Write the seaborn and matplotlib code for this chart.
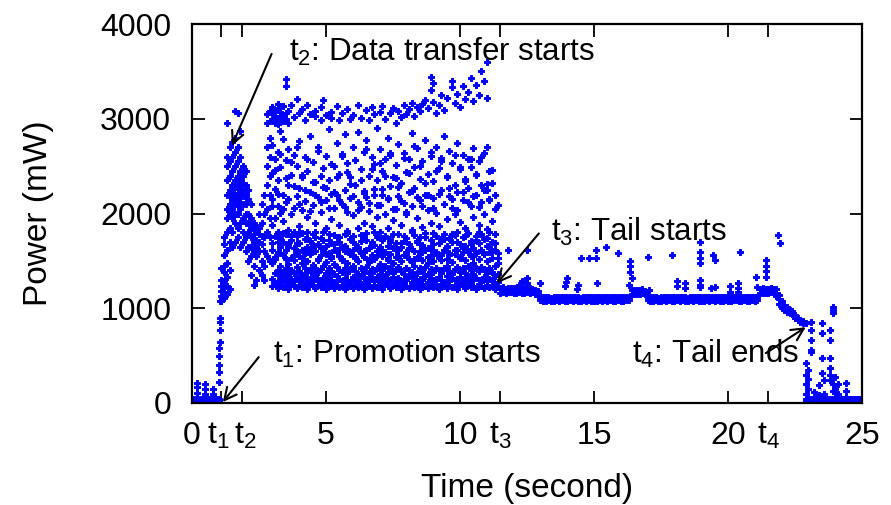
import matplotlib
matplotlib.use("Agg")
import matplotlib.pyplot as plt
import matplotlib.transforms as mtransforms
import seaborn as sns
import pandas as pd

# ---------------- data ----------------
# idle phase before promotion: time columns and power samples in each column
pre_t = [0.0, 0.1, 0.2, 0.3, 0.4, 0.5, 0.6, 0.7, 0.8, 0.9, 1.0, 1.05]
pre_p = [
    [20, 45], [25, 45], [20, 45, 110, 170, 210], [25, 40], [20, 45],
    [25, 45, 100, 150, 200], [20, 40], [25, 45], [20, 45, 100, 150],
    [25, 40], [20, 45, 220, 330, 400, 500, 580], [640, 770, 850, 900, 1080],
]

# promotion + data transfer phase
transfer_t = [1.1, 1.2, 1.3, 1.4, 1.5, 1.6, 1.7, 1.8, 1.9, 2.0,
              2.1, 2.2, 2.3, 2.4, 2.5, 2.6, 2.7, 2.8, 2.9,
              3.0, 3.1, 3.2, 3.3, 3.4, 3.5, 3.6, 3.7, 3.8, 3.9,
              4.0, 4.1, 4.2, 4.3, 4.4, 4.5, 4.6, 4.7, 4.8, 4.9,
              5.0, 5.1, 5.2, 5.3, 5.4, 5.5, 5.6, 5.7, 5.8, 5.9,
              6.0, 6.1, 6.2, 6.3, 6.4, 6.5, 6.6, 6.7, 6.8, 6.9,
              7.0, 7.1, 7.2, 7.3, 7.4, 7.5, 7.6, 7.7, 7.8, 7.9,
              8.0, 8.1, 8.2, 8.3, 8.4, 8.5, 8.6, 8.7, 8.8, 8.9,
              9.0, 9.1, 9.2, 9.3, 9.4, 9.5, 9.6, 9.7, 9.8, 9.9,
              10.0, 10.1, 10.2, 10.3, 10.4, 10.5, 10.6, 10.7, 10.8, 10.9,
              11.0, 11.1, 11.2, 11.3, 11.4]
transfer_p = [
    [1080, 1130, 1180, 1240, 1300, 1420],
    [1110, 1160, 1210, 1290, 1380, 1450, 1560, 1680, 1750],
    [1150, 1230, 1330, 1480, 1620, 1800, 1950, 2050, 2200, 2350, 2500, 2600, 2950],
    [1200, 1400, 1700, 1850, 2000, 2100, 2180, 2250, 2400, 2550, 2700],
    [1650, 1800, 1950, 2050, 2150, 2230, 2300, 2450, 2600, 2750],
    [1700, 1900, 2000, 2100, 2150, 2200, 2280, 2350, 2500, 2650, 2800, 3080],
    [1750, 1850, 2000, 2080, 2150, 2220, 2300, 2400, 2550, 2700, 3060],
    [1650, 1900, 2050, 2120, 2200, 2260, 2350, 2450, 2600, 2870],
    [1700, 1800, 1950, 2100, 2180, 2250, 2320, 2400, 2500],
    [1600, 1750, 1900, 2000, 2100, 2200, 2300, 2450],
    [1500, 1650, 1800, 1900, 2000, 2150, 2250],
    [1350, 1550, 1650, 1750, 1850, 1950, 2100],
    [1250, 1450, 1600, 1700, 1780, 1850, 1900],
    [1300, 1550, 1650, 1720, 1800, 1880],
    [1400, 1600, 1700, 1780, 1850, 2000],
    [1350, 1500, 1680, 1760, 1900, 2100],
    [1300, 1450, 1600, 1750, 2000, 2200],
    [1550, 1800, 2050, 2300, 2500, 2700, 2950, 3050],
    [1500, 1750, 1950, 2200, 2400, 2600, 2800, 2980, 3080],
    [1230, 1310, 1480, 1690, 1880, 2150, 2430, 2720, 2990, 3060, 3120],
    [1260, 1370, 1520, 1760, 1950, 2260, 2580, 2960, 3020, 3090],
    [1210, 1290, 1400, 1590, 1810, 2080, 2350, 2650, 2940, 3010, 3100, 3160],
    [1250, 1340, 1450, 1650, 1740, 2010, 2490, 2870, 3030, 3070],
    [1220, 1300, 1380, 1560, 1700, 1920, 2200, 2790, 2980, 3040, 3130],
    [1240, 1330, 1420, 1620, 1780, 2120, 2560, 3000, 3060, 3350, 3420],
    [1200, 1280, 1360, 1470, 1680, 1830, 2300, 2680, 2950, 3080],
    [1260, 1310, 1400, 1530, 1720, 1990, 2410, 3140],
    [1230, 1290, 1370, 1510, 1640, 1800, 2060, 2620, 3020],
    [1210, 1320, 1440, 1600, 1760, 2180, 2500, 3210],
    [1250, 1300, 1390, 1550, 1690, 1870, 2270, 2760, 3060],
    [1220, 1280, 1350, 1480, 1620, 1790, 2040, 2380, 3100],
    [1240, 1330, 1420, 1580, 1730, 2130, 2600, 2990],
    [1200, 1270, 1380, 1500, 1650, 1810, 1960, 2450, 3150],
    [1260, 1310, 1400, 1570, 1710, 2230, 2820, 3050],
    [1230, 1290, 1360, 1460, 1640, 1780, 2090, 2540],
    [1210, 1340, 1430, 1600, 1750, 1900, 2330, 3030, 3080],
    [1250, 1300, 1380, 1520, 1680, 2170, 2700],
    [1220, 1280, 1410, 1560, 1740, 2020, 2400, 2990, 3120],
    [1240, 1320, 1450, 1620, 1800, 2280, 3200],
    [1200, 1290, 1370, 1490, 1660, 1850, 2140, 2610, 3040],
    [1260, 1330, 1420, 1580, 1720, 2350, 2890],
    [1230, 1300, 1390, 1530, 1690, 1940, 2210, 3010, 3070],
    [1210, 1280, 1360, 1470, 1610, 1770, 2060, 2500],
    [1250, 1340, 1440, 1590, 1750, 2190, 2740, 3130],
    [1220, 1310, 1400, 1550, 1700, 1880, 2420, 2990],
    [1240, 1290, 1380, 1510, 1650, 2100, 2630, 3060],
    [1200, 1320, 1430, 1600, 1780, 2250, 2840],
    [1260, 1300, 1370, 1480, 1630, 1820, 2020, 2530, 3100],
    [1230, 1280, 1410, 1570, 1730, 2160, 2380, 3000],
    [1210, 1330, 1450, 1620, 1760, 1980, 2700, 3040],
    [1250, 1300, 1390, 1530, 1680, 2300, 2560],
    [1220, 1290, 1360, 1500, 1650, 1850, 2120, 2860, 3150],
    [1240, 1340, 1420, 1580, 1710, 2070, 2470, 3010],
    [1200, 1280, 1380, 1540, 1740, 1900, 2240, 2650],
    [1260, 1310, 1440, 1610, 1790, 2170, 2780, 3090],
    [1230, 1300, 1370, 1490, 1640, 2030, 2400, 2990],
    [1210, 1320, 1410, 1560, 1700, 1870, 2600, 3120],
    [1250, 1290, 1390, 1520, 1670, 2200, 2520, 3050],
    [1220, 1330, 1430, 1600, 1750, 1960, 2350, 2900],
    [1240, 1280, 1360, 1470, 1620, 1810, 2090, 2680, 3070],
    [1200, 1310, 1400, 1550, 1720, 2260, 2450, 3130],
    [1260, 1340, 1450, 1590, 1760, 2000, 2580, 3000],
    [1230, 1290, 1380, 1510, 1660, 1850, 2150, 2800],
    [1210, 1300, 1420, 1570, 1730, 2290, 2620, 3060],
    [1250, 1330, 1370, 1480, 1640, 1930, 2380, 3110],
    [1220, 1280, 1410, 1540, 1690, 2050, 2510, 2960],
    [1240, 1320, 1440, 1610, 1780, 2180, 2730, 3080],
    [1200, 1290, 1390, 1500, 1650, 1880, 2320, 3020],
    [1260, 1310, 1360, 1560, 1710, 2110, 2640, 3140],
    [1230, 1300, 1430, 1590, 1740, 1990, 2440, 3050],
    [1210, 1340, 1400, 1520, 1680, 2230, 2570, 3100],
    [1250, 1280, 1380, 1490, 1630, 1830, 2080, 2850, 3170],
    [1220, 1330, 1450, 1600, 1770, 2270, 2490, 3030],
    [1240, 1290, 1370, 1530, 1700, 1950, 2690, 3120],
    [1200, 1310, 1420, 1570, 1750, 2140, 2360, 3080],
    [1260, 1300, 1390, 1510, 1660, 1860, 2550, 3160],
    [1230, 1340, 1440, 1620, 1790, 2200, 2780, 3200],
    [1210, 1280, 1360, 1480, 1640, 2040, 2420, 3110],
    [1250, 1320, 1410, 1550, 1720, 1900, 2610, 3300, 3440],
    [1220, 1290, 1380, 1500, 1680, 2160, 2340, 3180, 3380],
    [1240, 1310, 1430, 1590, 1760, 2010, 2700, 3060],
    [1200, 1330, 1400, 1530, 1690, 1870, 2480, 3150],
    [1260, 1300, 1370, 1560, 1730, 2250, 2590, 3250],
    [1230, 1280, 1420, 1610, 1780, 2100, 2820, 3090],
    [1210, 1340, 1450, 1520, 1650, 1940, 2400, 3220],
    [1250, 1290, 1390, 1580, 1740, 2180, 2660],
    [1220, 1320, 1360, 1490, 1700, 2060, 2530, 3330, 3400],
    [1240, 1300, 1410, 1570, 1770, 1990, 2300, 3170],
    [1200, 1310, 1440, 1620, 1800, 2230, 2740, 3260],
    [1260, 1330, 1380, 1540, 1680, 1910, 2470, 3120],
    [1230, 1280, 1420, 1590, 1750, 2140, 2620, 3350],
    [1210, 1300, 1370, 1510, 1660, 1850, 2360, 3210],
    [1250, 1340, 1450, 1600, 1790, 2270, 2580, 3280],
    [1220, 1290, 1400, 1550, 1710, 2080, 2490, 3430],
    [1240, 1310, 1360, 1480, 1640, 1960, 2690, 3190],
    [1200, 1320, 1430, 1580, 1760, 2200, 2410, 3360],
    [1260, 1300, 1390, 1520, 1690, 1880, 2550, 3250],
    [1230, 1280, 1440, 1610, 1780, 2120, 2300, 3500],
    [1210, 1330, 1410, 1570, 1730, 2000, 2640, 3400],
    [1250, 1290, 1370, 1500, 1660, 1840, 2250, 2700, 3600, 3220],
    [1220, 1310, 1420, 1590, 1800, 2150, 2450],
    [1240, 1300, 1380, 1530, 1700, 1920, 2320],
    [1200, 1260, 1340, 1450, 1610, 1780, 2050],
    [1220, 1280, 1360, 1480, 1580],
]

# additional samples in the 3.0-11.4 s columns (one per column, two bands)
extra_t = transfer_t[19:]
extra_band = [1610, 1540, 1700, 1580, 1790, 1520, 1650, 1760, 1560, 1690,
              1810, 1530, 1620, 1740, 1590, 1670, 1800, 1510, 1640, 1720,
              1570, 1780, 1550, 1680, 1610, 1750, 1520, 1660, 1790, 1580,
              1700, 1540, 1630, 1770, 1600, 1720, 1510, 1680, 1810, 1560,
              1650, 1740, 1590, 1530, 1700, 1780, 1620, 1550, 1690, 1760,
              1570, 1640, 1800, 1520, 1710, 1600, 1670, 1750, 1540, 1630,
              1790, 1580, 1690, 1510, 1730, 1660, 1560, 1780, 1610, 1700,
              1530, 1640, 1760, 1590, 1680, 1550, 1720, 1800, 1620, 1570,
              1740, 1650, 1600, 1690, 1530]
extra_mid = [2080, 2460, 2210, 2630, 2050, 2370, 2150, 2540, 2290, 2700,
             2100, 2410, 2250, 2580, 2030, 2330, 2190, 2660, 2120, 2480,
             2270, 2060, 2520, 2230, 2390, 2140, 2610, 2070, 2440, 2310,
             2180, 2560, 2040, 2350, 2220, 2680, 2110, 2470, 2260, 2090,
             2530, 2200, 2400, 2160, 2640, 2050, 2370, 2280, 2130, 2590,
             2020, 2430, 2240, 2710, 2170, 2500, 2080, 2320, 2190, 2650,
             2060, 2450, 2210, 2550, 2100, 2380, 2270, 2150, 2620, 2040,
             2490, 2230, 2340, 2120, 2570, 2180, 2420, 2070, 2600, 2250,
             2310, 2140, 2460, 2200, 2090]

# tail phase: dense baseline (two rows of samples per time column)
tail_t = [11.5, 11.6, 11.7, 11.8, 11.9, 12.0, 12.1, 12.2, 12.3, 12.4,
          12.5, 12.6, 12.7, 12.8, 12.9, 13.0, 13.1, 13.2, 13.3, 13.4,
          13.5, 13.6, 13.7, 13.8, 13.9, 14.0, 14.1, 14.2, 14.3, 14.4,
          14.5, 14.6, 14.7, 14.8, 14.9, 15.0, 15.1, 15.2, 15.3, 15.4,
          15.5, 15.6, 15.7, 15.8, 15.9, 16.0, 16.1, 16.2, 16.3, 16.4,
          16.5, 16.6, 16.7, 16.8, 16.9, 17.0, 17.1, 17.2, 17.3, 17.4,
          17.5, 17.6, 17.7, 17.8, 17.9, 18.0, 18.1, 18.2, 18.3, 18.4,
          18.5, 18.6, 18.7, 18.8, 18.9, 19.0, 19.1, 19.2, 19.3, 19.4,
          19.5, 19.6, 19.7, 19.8, 19.9, 20.0, 20.1, 20.2, 20.3, 20.4,
          20.5, 20.6, 20.7, 20.8, 20.9, 21.0, 21.1, 21.2, 21.3, 21.4,
          21.5, 21.6, 21.7]
tail_low = [1165, 1170, 1160, 1168, 1172, 1163, 1166, 1170, 1158, 1164,
            1169, 1161, 1167, 1155, 1150, 1085, 1080, 1078, 1083, 1076,
            1081, 1084, 1079, 1082, 1077, 1080, 1085, 1078, 1083, 1080,
            1076, 1082, 1079, 1084, 1081, 1078, 1080, 1083, 1077, 1082,
            1079, 1085, 1080, 1078, 1083, 1081, 1077, 1084, 1082, 1150,
            1155, 1148, 1152, 1158, 1150, 1085, 1080, 1078, 1083, 1076,
            1081, 1084, 1079, 1082, 1077, 1080, 1085, 1078, 1083, 1080,
            1076, 1082, 1079, 1084, 1081, 1078, 1080, 1083, 1077, 1082,
            1079, 1085, 1080, 1078, 1083, 1081, 1077, 1084, 1082, 1080,
            1079, 1083, 1078, 1081, 1085, 1080, 1084, 1160, 1165, 1158,
            1163, 1167, 1160]
tail_high = [1212, 1220, 1205, 1215, 1210, 1218, 1208, 1214, 1206, 1212,
             1203, 1210, 1200, 1195, 1185, 1120, 1115, 1118, 1122, 1113,
             1117, 1121, 1116, 1119, 1114, 1118, 1123, 1115, 1120, 1117,
             1113, 1119, 1116, 1122, 1118, 1115, 1117, 1121, 1114, 1119,
             1116, 1122, 1118, 1115, 1120, 1118, 1114, 1121, 1119, 1190,
             1195, 1188, 1192, 1198, 1185, 1120, 1115, 1118, 1122, 1113,
             1117, 1121, 1116, 1119, 1114, 1118, 1123, 1115, 1120, 1117,
             1113, 1119, 1116, 1122, 1118, 1115, 1117, 1121, 1114, 1119,
             1116, 1122, 1118, 1115, 1120, 1118, 1114, 1121, 1119, 1117,
             1116, 1120, 1115, 1118, 1122, 1117, 1121, 1205, 1210, 1200,
             1208, 1212, 1204]

# isolated samples above the tail baseline
spike_t = [11.8, 12.2, 12.3, 12.5, 12.5, 12.5, 13.0, 13.9, 13.95, 14.0,
           14.35, 14.4, 14.5, 14.8, 15.06, 15.06, 15.1, 15.46, 15.9, 16.3,
           16.35, 16.35, 16.35, 16.4, 17.0, 17.06, 17.9, 18.1, 18.1, 18.4,
           18.4, 18.96, 18.96, 18.96, 18.96, 18.96, 18.96, 18.96, 19.37, 19.44,
           19.5, 19.5, 20.07, 20.07, 20.37, 20.37, 20.37, 20.45, 21.05, 21.1,
           21.4, 21.4, 21.4, 21.4, 21.86, 21.93]
spike_p = [1620, 1250, 1290, 1610, 1316, 1270, 1263, 1240, 1280, 1316,
           1200, 1250, 1526, 1526, 1526, 1610, 1263, 1642, 1579, 1250,
           1500, 1450, 1380, 1320, 1537, 1190, 1558, 1285, 1230, 1270,
           1210, 1695, 1590, 1530, 1474, 1295, 1250, 1220, 1210, 1558,
           1505, 1220, 1240, 1170, 1263, 1210, 1170, 1590, 1326, 1220,
           1505, 1450, 1390, 1326, 1768, 1684]

# end of tail (staircase drop) and idle afterwards
end_t = [21.8, 21.9, 22.0, 22.1, 22.2, 22.3, 22.4, 22.5, 22.6, 22.7,
         22.8, 22.9, 23.0, 23.1, 23.2, 23.3, 23.4, 23.5, 23.6, 23.7,
         23.8, 23.9, 24.0, 24.1, 24.2, 24.3, 24.4, 24.5, 24.6, 24.7,
         24.8, 24.9, 25.0]
end_p = [
    [1130, 1165, 1200], [1050, 1100, 1140], [1000, 1040, 1080],
    [980, 1000, 1030], [960, 990, 1010], [950, 980], [940, 970],
    [900, 930], [880, 900], [860, 880], [845, 870],
    [20, 45, 100, 200, 300, 420, 840], [20, 45, 150, 250, 350],
    [20, 45, 540, 560, 660, 770, 850], [20, 45, 120], [20, 45],
    [20, 45, 80, 190], [20, 45, 316, 470, 740, 840], [20, 45, 100, 240],
    [20, 45], [20, 45, 240, 300, 370, 470, 660, 770],
    [20, 45, 130, 200, 950, 980, 1010], [20, 45, 60, 150, 270],
    [20, 45, 100, 200], [20, 45], [20, 45], [20, 45, 60, 130, 210],
    [20, 45], [20, 45], [20, 45], [20, 45], [20, 45], [20, 45],
]

x_tick_pos = [0, 1.1, 1.85, 5, 10, 11.5, 15, 20, 21.5, 25]
x_tick_labels = ["0", r"$\mathregular{t_1}$", r"$\mathregular{t_2}$", "5", "10",
                 r"$\mathregular{t_3}$", "15", "20", r"$\mathregular{t_4}$", "25"]
y_tick_pos = [0, 1000, 2000, 3000, 4000]

# (text, text position, arrow tail, arrow head) in data units
notes = [
    (r"$\mathregular{t_2}$: Data transfer starts", (3.62, 3610), (2.97, 3684), (1.49, 2716)),
    (r"$\mathregular{t_1}$: Promotion starts", (3.02, 421), (2.49, 484), (1.15, 10)),
    (r"$\mathregular{t_3}$: Tail starts", (13.4, 1716), (12.94, 1789), (11.38, 1263)),
    (r"$\mathregular{t_4}$: Tail ends", (16.42, 421), (21.41, 526), (22.9, 800)),
]

# ---------------- build table ----------------
xs, ys = [], []
for ts, ps in [(pre_t, pre_p), (transfer_t, transfer_p), (end_t, end_p)]:
    for t, vals in zip(ts, ps):
        xs += [t] * len(vals)
        ys += list(vals)
xs += tail_t + tail_t + spike_t + extra_t + extra_t
ys += tail_low + tail_high + spike_p + extra_band + extra_mid
df = pd.DataFrame({"time": xs, "power": ys})

# ---------------- draw ----------------
sns.set_style("ticks")
plt.rcParams["font.family"] = ["Liberation Sans", "DejaVu Sans"]
plt.rcParams["mathtext.default"] = "regular"
for k in ["text.color", "axes.labelcolor", "xtick.color", "ytick.color", "axes.edgecolor"]:
    plt.rcParams[k] = "black"

fig = plt.figure(figsize=(8.91, 5.05), dpi=100)
ax = fig.add_axes([192 / 891, 102 / 505, 670 / 891, 379 / 505])

sns.scatterplot(data=df, x="time", y="power", ax=ax, color="#0000ff",
                marker="P", s=22, linewidth=0.7, edgecolor="#0000ff",
                legend=False, zorder=2)

ax.set_xlim(0, 25)
ax.set_ylim(0, 4000)
ax.set_xticks(x_tick_pos)
ax.set_xticklabels(x_tick_labels)
ax.set_yticks(y_tick_pos)
ax.tick_params(direction="in", length=9, width=1.3, top=True, right=True,
               labelsize=23, colors="black")
ax.tick_params(axis="y", pad=15)
ax.tick_params(axis="x", pad=13)
for sp in ax.spines.values():
    sp.set_linewidth(1.6)
    sp.set_color("black")

# t1 / t2 labels sit close together: nudge them apart slightly
xlabels = ax.get_xticklabels()
for idx, dx in [(1, -2.5), (2, 2.5)]:
    off = mtransforms.ScaledTranslation(dx / 72, 0, fig.dpi_scale_trans)
    xlabels[idx].set_transform(xlabels[idx].get_transform() + off)

ax.set_xlabel("Time (second)", fontsize=24, labelpad=16)
ax.set_ylabel("Power (mW)", fontsize=24, labelpad=33)

for text, tpos, tail, head in notes:
    ax.annotate("", xy=head, xytext=tail,
                arrowprops=dict(arrowstyle="->", lw=1.5, color="black",
                                mutation_scale=22, shrinkA=0, shrinkB=0),
                zorder=5)
    ax.text(tpos[0], tpos[1], text, fontsize=22.5, ha="left", va="baseline", zorder=5)

fig.savefig("out.png", dpi=100)
